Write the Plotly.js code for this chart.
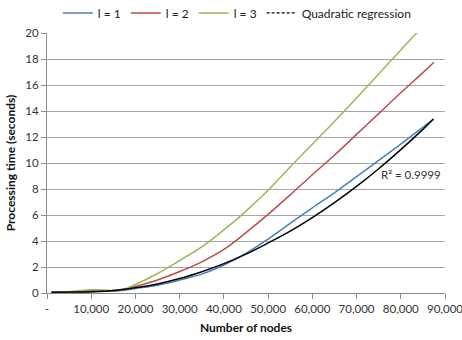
<!DOCTYPE html>
<html>
<head>
<meta charset="utf-8">
<script src="https://cdn.plot.ly/plotly-3.0.1.min.js"></script>
<style>html,body{margin:0;padding:0;background:#fff;}#chart{width:462px;height:340px;}</style>
</head>
<body>
<div id="chart"></div>
<script>
// Number of nodes (x values) and processing time (seconds)
const nodesL1 = [1000, 5000, 10000, 15000, 17500, 20000, 25000, 30000, 35000, 40000, 45000, 50000, 55000, 60000, 65000, 70000, 75000, 80000, 85000, 87400];
const timeL1  = [0.03, 0.05, 0.10, 0.15, 0.22, 0.35, 0.60, 1.00, 1.45, 2.15, 3.05, 4.15, 5.35, 6.55, 7.70, 8.95, 10.20, 11.45, 12.75, 13.38];

const nodesL2 = [1000, 5000, 10000, 15000, 17500, 20000, 25000, 30000, 35000, 40000, 45000, 50000, 55000, 60000, 65000, 70000, 75000, 80000, 85000, 87500];
const timeL2  = [0.05, 0.08, 0.17, 0.15, 0.25, 0.50, 1.00, 1.65, 2.40, 3.35, 4.65, 6.05, 7.55, 9.10, 10.60, 12.20, 13.80, 15.40, 16.95, 17.75];

const nodesL3 = [1000, 5000, 10000, 15000, 17500, 20000, 25000, 30000, 35000, 40000, 45000, 50000, 55000, 60000, 65000, 70000, 75000, 80000, 85000, 87500];
const timeL3  = [0.05, 0.10, 0.25, 0.20, 0.30, 0.65, 1.50, 2.50, 3.55, 4.85, 6.30, 7.90, 9.70, 11.45, 13.20, 15.00, 16.85, 18.70, 20.50, 21.40];

const nodesFit = [1000, 5000, 10000, 15000, 20000, 25000, 30000, 35000, 40000, 45000, 50000, 55000, 60000, 65000, 70000, 75000, 80000, 85000, 87400];
const timeFit  = [0.06, 0.07, 0.10, 0.20, 0.40, 0.70, 1.11, 1.64, 2.26, 2.99, 3.85, 4.76, 5.80, 6.95, 8.20, 9.56, 11.03, 12.59, 13.38];

const xTickVals = [0, 10000, 20000, 30000, 40000, 50000, 60000, 70000, 80000, 90000];
const xTickText = ['-', '10,000', '20,000', '30,000', '40,000', '50,000', '60,000', '70,000', '80,000', '90,000'];
const yTickVals = [0, 2, 4, 6, 8, 10, 12, 14, 16, 18, 20];

const seriesNames = ['l = 1', 'l = 2', 'l = 3', 'Quadratic regression'];
const r2Label = 'R² = 0.9999';

const FONT = 'Lato, "Open Sans", sans-serif';
const SM = 1.0;
const traces = [
  {x: nodesL1, y: timeL1, name: seriesNames[0], mode: 'lines', line: {color: '#4A7EBB', width: 1.5, shape: 'spline', smoothing: SM}},
  {x: nodesL2, y: timeL2, name: seriesNames[1], mode: 'lines', line: {color: '#BE4B48', width: 1.5, shape: 'spline', smoothing: SM}},
  {x: nodesL3, y: timeL3, name: seriesNames[2], mode: 'lines', line: {color: '#98B954', width: 1.5, shape: 'spline', smoothing: SM}},
  {x: nodesFit, y: timeFit, name: seriesNames[3], mode: 'lines', showlegend: false, line: {color: '#000000', width: 1.5, shape: 'spline', smoothing: SM}},
  {x: [null], y: [null], name: seriesNames[3], mode: 'lines', line: {color: '#000000', width: 1.2, dash: '3px,2px'}}
];

const layout = {
  width: 462, height: 340,
  margin: {l: 47, r: 17, t: 33, b: 47, autoexpand: false},
  paper_bgcolor: '#ffffff', plot_bgcolor: '#ffffff',
  font: {family: FONT, size: 11, color: '#333333'},
  showlegend: true,
  legend: {orientation: 'h', x: 0.477, xanchor: 'center', yref: 'container', y: 0.962, yanchor: 'middle',
           font: {family: FONT, size: 12, color: '#222222'}, itemwidth: 30, tracegroupgap: 0,
           bgcolor: 'rgba(0,0,0,0)'},
  xaxis: {range: [0, 90000], tickvals: xTickVals, ticktext: xTickText, showgrid: false, automargin: false,
          showline: true, linecolor: '#8c8c8c', linewidth: 1, ticks: 'outside', ticklen: 5,
          tickcolor: '#8c8c8c', zeroline: false, fixedrange: true, ticklabeloverflow: 'allow',
          tickfont: {family: FONT, size: 11.5, color: '#333333'},
          title: {text: '<b>Number of nodes</b>', font: {family: FONT, size: 12, color: '#111111'}, standoff: 9}},
  yaxis: {range: [0, 20], tickvals: yTickVals, showgrid: true, gridcolor: '#a6a6a6', gridwidth: 1, automargin: false,
          showline: true, linecolor: '#8c8c8c', linewidth: 1, ticks: 'outside', ticklen: 5,
          tickcolor: '#8c8c8c', zeroline: false, fixedrange: true,
          tickfont: {family: FONT, size: 11.5, color: '#333333'},
          title: {text: '<b>Processing time (seconds)</b>', font: {family: FONT, size: 12, color: '#111111'}, standoff: 7}},
  annotations: [
    {x: 82200, y: 9.1, xref: 'x', yref: 'y', text: r2Label, showarrow: false,
     xanchor: 'center', yanchor: 'middle', font: {family: FONT, size: 11.5, color: '#333333'}}
  ]
};

Plotly.newPlot('chart', traces, layout, {displayModeBar: false, staticPlot: true});
</script>
</body>
</html>
